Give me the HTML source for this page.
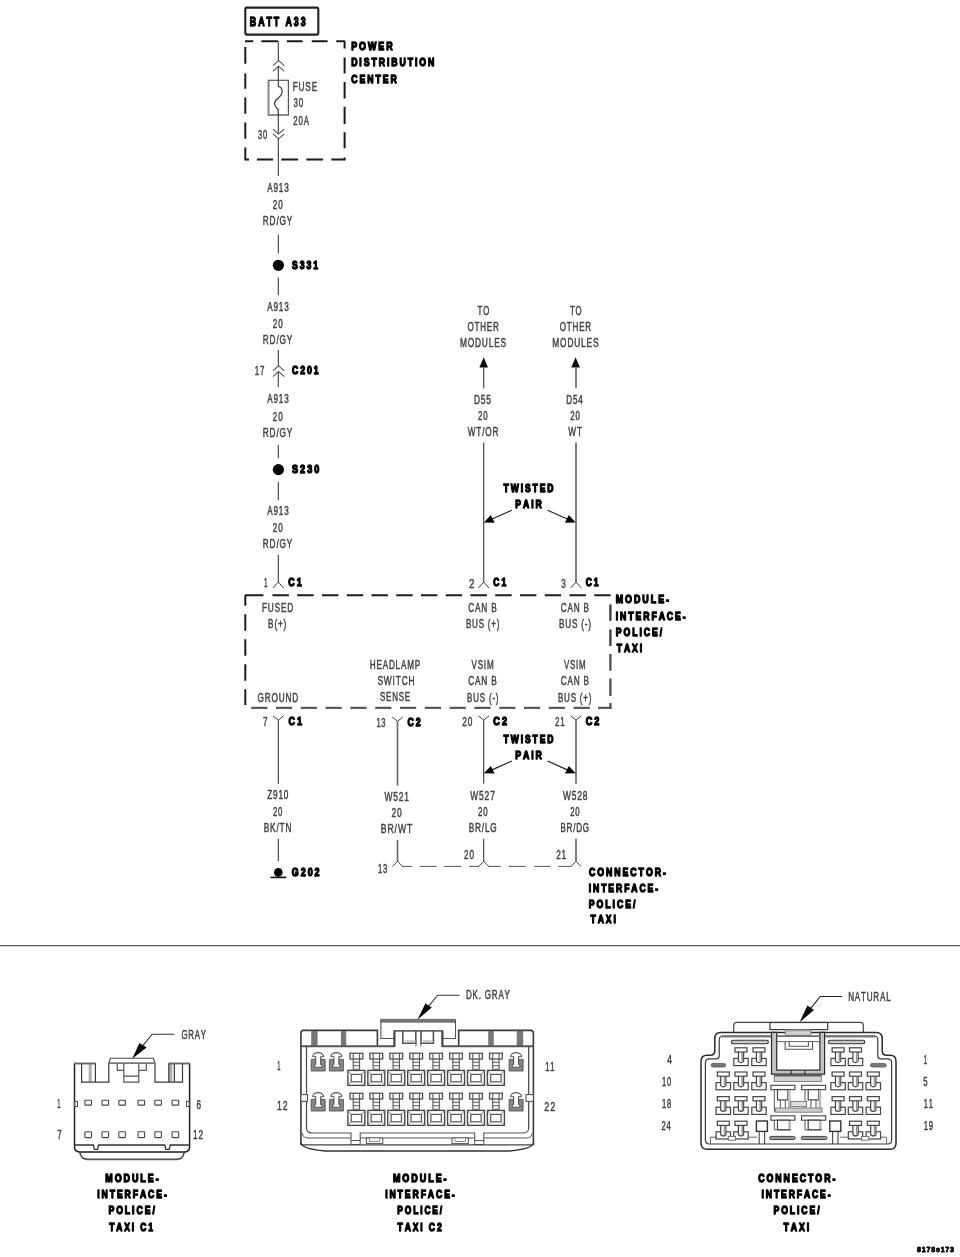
<!DOCTYPE html>
<html lang="en"><head><meta charset="utf-8"><title>Police/Taxi Interface Module Wiring Diagram</title>
<style>
html,body{margin:0;padding:0;background:#fff;}
body{width:960px;height:1257px;overflow:hidden;}
svg{display:block;}
text{font-family:"Liberation Sans",sans-serif;font-kerning:none;white-space:pre;}
text.b{font-weight:bold;}
</style></head>
<body>
<svg width="960" height="1257" viewBox="0 0 960 1257">
<defs><filter id="soft" filterUnits="userSpaceOnUse" x="0" y="0" width="960" height="1257"><feGaussianBlur stdDeviation="0.5"/></filter></defs>
<rect x="0" y="0" width="960" height="1257" fill="#fff"/>
<g filter="url(#soft)">
<rect x="245.3" y="7.6" width="73" height="27" rx="1.5" stroke="#222" stroke-width="2.1" fill="none" />
<text class="b" transform="translate(249.86,26.15) scale(0.7009,1)" font-size="12.6" letter-spacing="2.77" fill="#000" stroke="#000" stroke-width="1.3" stroke-linejoin="round">BATT A33</text>
<path d="M245,41.2H253.2 M261.4,41.2H278 M286.9,41.2H302.6 M311.8,41.2H327.6 M336.3,41.2H345" stroke="#1a1a1a" stroke-width="2" fill="none" />
<path d="M245.3,46.9V63.7 M245.3,73.6V88.8 M245.3,97.5V113.8 M245.3,122.5V138.8 M245.3,147.5V160.3" stroke="#1a1a1a" stroke-width="2" fill="none" />
<path d="M344.6,41.2V48.4 M344.6,57.5V73.4 M344.6,82V98.6 M344.6,106.8V124 M344.6,132.3V148.2 M344.6,157.4V160.3" stroke="#1a1a1a" stroke-width="2" fill="none" />
<path d="M245,159.4H249 M256.9,159.4H273.1 M281.3,159.4H298.1 M306.3,159.4H323.1 M331.3,159.4H345" stroke="#1a1a1a" stroke-width="2" fill="none" />
<text class="b" transform="translate(351.14,50.15) scale(0.8177,1)" font-size="10.9" letter-spacing="2.40" fill="#000" stroke="#000" stroke-width="1.3" stroke-linejoin="round">POWER</text>
<text class="b" transform="translate(351.14,66.25) scale(0.8002,1)" font-size="10.9" letter-spacing="2.40" fill="#000" stroke="#000" stroke-width="1.3" stroke-linejoin="round">DISTRIBUTION</text>
<text class="b" transform="translate(351.36,82.75) scale(0.8009,1)" font-size="10.9" letter-spacing="2.40" fill="#000" stroke="#000" stroke-width="1.3" stroke-linejoin="round">CENTER</text>
<line x1="278.3" y1="41.2" x2="278.3" y2="60.6" stroke="#3c3c3c" stroke-width="1.1" />
<path d="M273,65.7L278.6,60.6L284.2,65.7" stroke="#5a5a5a" stroke-width="1.1" fill="none" />
<path d="M273,71.4L278.6,66.3L284.2,71.4" stroke="#5a5a5a" stroke-width="1.1" fill="none" />
<line x1="278.3" y1="66.3" x2="278.3" y2="80" stroke="#3c3c3c" stroke-width="1.1" />
<rect x="268.5" y="80.3" width="19.9" height="34.7" stroke="#555" stroke-width="1.2" fill="none" />
<path d="M268.5,81 V115 H288" stroke="#8a8a8a" stroke-width="1.9" fill="none" />
<path d="M278.3,80 V86.4 C281.2,87 282.2,89.6 282.2,92 C282.2,95.4 279.8,96.6 278.2,98 C276.2,99.6 274.5,101 274.5,103.5 C274.5,106.6 277.2,108 278.3,109.6 V115" stroke="#3c3c3c" stroke-width="1.2" fill="none" />
<line x1="278.3" y1="114.8" x2="278.3" y2="134" stroke="#3c3c3c" stroke-width="1.1" />
<path d="M273,129.2L278.6,134L284.2,129.2" stroke="#5a5a5a" stroke-width="1.1" fill="none" />
<path d="M273,134L278.6,138.8L284.2,134" stroke="#5a5a5a" stroke-width="1.1" fill="none" />
<line x1="278.3" y1="138.8" x2="278.3" y2="176" stroke="#3c3c3c" stroke-width="1.1" />
<text class="r" transform="translate(292.69,90.55) scale(0.6712,1)" font-size="12.3" letter-spacing="1.23" fill="#444" stroke="#444" stroke-width="0.5" stroke-linejoin="round">FUSE</text>
<text class="r" transform="translate(293.46,107.45) scale(0.6500,1)" font-size="12.3" letter-spacing="1.23" fill="#444" stroke="#444" stroke-width="0.5" stroke-linejoin="round">30</text>
<text class="r" transform="translate(293.37,124.95) scale(0.6363,1)" font-size="12.3" letter-spacing="1.23" fill="#444" stroke="#444" stroke-width="0.5" stroke-linejoin="round">20A</text>
<text class="r" transform="translate(258.07,138.75) scale(0.6085,1)" font-size="12.3" letter-spacing="1.23" fill="#444" stroke="#444" stroke-width="0.5" stroke-linejoin="round">30</text>
<text class="r" transform="translate(267.25,192.15) scale(0.6615,1)" font-size="12.3" letter-spacing="1.23" fill="#444" stroke="#444" stroke-width="0.5" stroke-linejoin="round">A913</text>
<text class="r" transform="translate(272.86,208.85) scale(0.6568,1)" font-size="12.3" letter-spacing="1.23" fill="#444" stroke="#444" stroke-width="0.5" stroke-linejoin="round">20</text>
<text class="r" transform="translate(262.79,225.45) scale(0.6729,1)" font-size="12.3" letter-spacing="1.23" fill="#444" stroke="#444" stroke-width="0.5" stroke-linejoin="round">RD/GY</text>
<line x1="278.3" y1="234.5" x2="278.3" y2="253.5" stroke="#3c3c3c" stroke-width="1.1" />
<circle cx="278.4" cy="265.3" r="5.6" fill="#000"/>
<text class="b" transform="translate(292.07,269.25) scale(0.7980,1)" font-size="10.9" letter-spacing="2.40" fill="#000" stroke="#000" stroke-width="1.3" stroke-linejoin="round">S331</text>
<line x1="278.3" y1="277.5" x2="278.3" y2="295.3" stroke="#3c3c3c" stroke-width="1.1" />
<text class="r" transform="translate(267.25,310.95) scale(0.6615,1)" font-size="12.3" letter-spacing="1.23" fill="#444" stroke="#444" stroke-width="0.5" stroke-linejoin="round">A913</text>
<text class="r" transform="translate(272.86,327.65) scale(0.6568,1)" font-size="12.3" letter-spacing="1.23" fill="#444" stroke="#444" stroke-width="0.5" stroke-linejoin="round">20</text>
<text class="r" transform="translate(262.79,344.25) scale(0.6729,1)" font-size="12.3" letter-spacing="1.23" fill="#444" stroke="#444" stroke-width="0.5" stroke-linejoin="round">RD/GY</text>
<line x1="278.3" y1="350" x2="278.3" y2="366" stroke="#3c3c3c" stroke-width="1.1" />
<path d="M273,370.9L278.6,365.8L284.2,370.9" stroke="#5a5a5a" stroke-width="1.1" fill="none" />
<path d="M273,376.6L278.6,371.5L284.2,376.6" stroke="#5a5a5a" stroke-width="1.1" fill="none" />
<line x1="278.3" y1="371.5" x2="278.3" y2="387" stroke="#3c3c3c" stroke-width="1.1" />
<text class="r" transform="translate(254.75,374.75) scale(0.6495,1)" font-size="12.3" letter-spacing="1.23" fill="#444" stroke="#444" stroke-width="0.5" stroke-linejoin="round">17</text>
<text class="b" transform="translate(291.96,373.75) scale(0.7988,1)" font-size="10.9" letter-spacing="2.40" fill="#000" stroke="#000" stroke-width="1.3" stroke-linejoin="round">C201</text>
<text class="r" transform="translate(267.25,403.35) scale(0.6615,1)" font-size="12.3" letter-spacing="1.23" fill="#444" stroke="#444" stroke-width="0.5" stroke-linejoin="round">A913</text>
<text class="r" transform="translate(272.86,420.65) scale(0.6568,1)" font-size="12.3" letter-spacing="1.23" fill="#444" stroke="#444" stroke-width="0.5" stroke-linejoin="round">20</text>
<text class="r" transform="translate(262.79,437.15) scale(0.6729,1)" font-size="12.3" letter-spacing="1.23" fill="#444" stroke="#444" stroke-width="0.5" stroke-linejoin="round">RD/GY</text>
<line x1="278.3" y1="445" x2="278.3" y2="458.3" stroke="#3c3c3c" stroke-width="1.1" />
<circle cx="278.4" cy="469.6" r="5.6" fill="#000"/>
<text class="b" transform="translate(292.08,472.95) scale(0.8316,1)" font-size="10.9" letter-spacing="2.40" fill="#000" stroke="#000" stroke-width="1.3" stroke-linejoin="round">S230</text>
<line x1="278.3" y1="482" x2="278.3" y2="500.3" stroke="#3c3c3c" stroke-width="1.1" />
<text class="r" transform="translate(267.25,515.35) scale(0.6615,1)" font-size="12.3" letter-spacing="1.23" fill="#444" stroke="#444" stroke-width="0.5" stroke-linejoin="round">A913</text>
<text class="r" transform="translate(272.86,531.85) scale(0.6568,1)" font-size="12.3" letter-spacing="1.23" fill="#444" stroke="#444" stroke-width="0.5" stroke-linejoin="round">20</text>
<text class="r" transform="translate(262.79,548.05) scale(0.6729,1)" font-size="12.3" letter-spacing="1.23" fill="#444" stroke="#444" stroke-width="0.5" stroke-linejoin="round">RD/GY</text>
<line x1="278.3" y1="555" x2="278.3" y2="582.5" stroke="#3c3c3c" stroke-width="1.1" />
<path d="M273.0,588 L278.3,582 L283.6,588" stroke="#3c3c3c" stroke-width="1" fill="none" />
<text class="r" transform="translate(263.94,587.35) scale(0.5170,1)" font-size="12.3" letter-spacing="1.23" fill="#444" stroke="#444" stroke-width="0.5" stroke-linejoin="round">1</text>
<text class="b" transform="translate(288.37,586.35) scale(0.8175,1)" font-size="10.9" letter-spacing="2.40" fill="#000" stroke="#000" stroke-width="1.3" stroke-linejoin="round">C1</text>
<text class="r" transform="translate(477.58,314.75) scale(0.6352,1)" font-size="12.3" letter-spacing="1.23" fill="#444" stroke="#444" stroke-width="0.5" stroke-linejoin="round">TO</text>
<text class="r" transform="translate(467.38,331.15) scale(0.6552,1)" font-size="12.3" letter-spacing="1.23" fill="#444" stroke="#444" stroke-width="0.5" stroke-linejoin="round">OTHER</text>
<text class="r" transform="translate(459.88,347.35) scale(0.6792,1)" font-size="12.3" letter-spacing="1.23" fill="#444" stroke="#444" stroke-width="0.5" stroke-linejoin="round">MODULES</text>
<text class="r" transform="translate(569.98,314.75) scale(0.6352,1)" font-size="12.3" letter-spacing="1.23" fill="#444" stroke="#444" stroke-width="0.5" stroke-linejoin="round">TO</text>
<text class="r" transform="translate(559.78,331.15) scale(0.6552,1)" font-size="12.3" letter-spacing="1.23" fill="#444" stroke="#444" stroke-width="0.5" stroke-linejoin="round">OTHER</text>
<text class="r" transform="translate(552.28,347.35) scale(0.6792,1)" font-size="12.3" letter-spacing="1.23" fill="#444" stroke="#444" stroke-width="0.5" stroke-linejoin="round">MODULES</text>
<polygon points="483.7,357.3 479.4,367.6 488,367.6" fill="#111"/>
<polygon points="575.6,357.3 571.3,367.6 579.9,367.6" fill="#111"/>
<line x1="483.7" y1="367" x2="483.7" y2="388.3" stroke="#484848" stroke-width="1.2" />
<line x1="576" y1="367" x2="576" y2="388.3" stroke="#6a6a6a" stroke-width="1.7" />
<text class="r" transform="translate(473.88,403.55) scale(0.6834,1)" font-size="12.3" letter-spacing="1.23" fill="#444" stroke="#444" stroke-width="0.5" stroke-linejoin="round">D55</text>
<text class="r" transform="translate(477.96,419.95) scale(0.6428,1)" font-size="12.3" letter-spacing="1.23" fill="#444" stroke="#444" stroke-width="0.5" stroke-linejoin="round">20</text>
<text class="r" transform="translate(467.73,436.15) scale(0.6683,1)" font-size="12.3" letter-spacing="1.23" fill="#444" stroke="#444" stroke-width="0.5" stroke-linejoin="round">WT/OR</text>
<text class="r" transform="translate(566.30,403.55) scale(0.6624,1)" font-size="12.3" letter-spacing="1.23" fill="#444" stroke="#444" stroke-width="0.5" stroke-linejoin="round">D54</text>
<text class="r" transform="translate(570.36,419.95) scale(0.6428,1)" font-size="12.3" letter-spacing="1.23" fill="#444" stroke="#444" stroke-width="0.5" stroke-linejoin="round">20</text>
<text class="r" transform="translate(568.33,436.15) scale(0.6726,1)" font-size="12.3" letter-spacing="1.23" fill="#444" stroke="#444" stroke-width="0.5" stroke-linejoin="round">WT</text>
<line x1="483.7" y1="442.5" x2="483.7" y2="582.5" stroke="#484848" stroke-width="1.2" />
<line x1="576" y1="442.5" x2="576" y2="582.5" stroke="#6a6a6a" stroke-width="1.7" />
<path d="M478.4,588 L483.7,582 L489.0,588" stroke="#3c3c3c" stroke-width="1" fill="none" />
<path d="M570.7,588 L576,582 L581.3,588" stroke="#3c3c3c" stroke-width="1" fill="none" />
<text class="b" transform="translate(503.61,492.35) scale(0.7856,1)" font-size="10.9" letter-spacing="2.40" fill="#000" stroke="#000" stroke-width="1.3" stroke-linejoin="round">TWISTED</text>
<text class="b" transform="translate(515.34,508.35) scale(0.7921,1)" font-size="10.9" letter-spacing="2.40" fill="#000" stroke="#000" stroke-width="1.3" stroke-linejoin="round">PAIR</text>
<path d="M511.8,510.2 L490.4,519.8 M547.6,510.2 L569,519.8" stroke="#222" stroke-width="1.2" fill="none" />
<polygon points="483.9,522.5 494.6,522.7 490.8,515.1" fill="#000"/>
<polygon points="575.7,522.5 565,522.7 568.8,515.1" fill="#000"/>
<text class="r" transform="translate(468.91,587.55) scale(0.7864,1)" font-size="12.3" letter-spacing="1.23" fill="#444" stroke="#444" stroke-width="0.5" stroke-linejoin="round">2</text>
<text class="b" transform="translate(493.36,586.35) scale(0.7819,1)" font-size="10.9" letter-spacing="2.40" fill="#000" stroke="#000" stroke-width="1.3" stroke-linejoin="round">C1</text>
<text class="r" transform="translate(561.26,587.55) scale(0.6633,1)" font-size="12.3" letter-spacing="1.23" fill="#444" stroke="#444" stroke-width="0.5" stroke-linejoin="round">3</text>
<text class="b" transform="translate(585.66,586.35) scale(0.7819,1)" font-size="10.9" letter-spacing="2.40" fill="#000" stroke="#000" stroke-width="1.3" stroke-linejoin="round">C1</text>
<path d="M245,595.3H263.4 M272.5,595.3H288.9 M297.25,595.3H313.65 M322,595.3H338.4 M346.75,595.3H363.15 M371.5,595.3H387.9 M396.25,595.3H412.65 M421,595.3H437.4 M445.75,595.3H462.15 M470.5,595.3H486.9 M495.25,595.3H511.65 M520,595.3H536.4 M544.75,595.3H561.15 M569.5,595.3H585.9 M594.25,595.3H610.6" stroke="#1a1a1a" stroke-width="2" fill="none" />
<path d="M245.3,595.3V605.8 M245.3,614.2V630.8 M245.3,639.2V655.8 M245.3,664.2V680.8 M245.3,689.2V705" stroke="#1a1a1a" stroke-width="2" fill="none" />
<path d="M610.4,604.5V620.7 M610.4,629.6V646" stroke="#3a3a3a" stroke-width="2.3" fill="none" />
<path d="M610.4,654V670.8 M610.4,678.6V695.9 M610.4,703.1V709" stroke="#555" stroke-width="2.4" fill="none" />
<path d="M251.2,707.9H267.4 M276,707.9H292.2 M300.8,707.9H317 M325.6,707.9H341.8 M350.4,707.9H366.6 M375.2,707.9H391.4 M400,707.9H416.2 M424.8,707.9H441 M449.6,707.9H465.8 M474.4,707.9H490.6 M499.2,707.9H515.4 M524,707.9H540.2 M548.8,707.9H565 M573.6,707.9H589.8 M598,707.9H611.4" stroke="#5a5a5a" stroke-width="2.4" fill="none" />
<text class="b" transform="translate(615.74,603.25) scale(0.8167,1)" font-size="10.9" letter-spacing="2.40" fill="#000" stroke="#000" stroke-width="1.3" stroke-linejoin="round">MODULE-</text>
<text class="b" transform="translate(615.74,619.85) scale(0.7980,1)" font-size="10.9" letter-spacing="2.40" fill="#000" stroke="#000" stroke-width="1.3" stroke-linejoin="round">INTERFACE-</text>
<text class="b" transform="translate(615.74,636.15) scale(0.7989,1)" font-size="10.9" letter-spacing="2.40" fill="#000" stroke="#000" stroke-width="1.3" stroke-linejoin="round">POLICE/</text>
<text class="b" transform="translate(616.82,651.95) scale(0.7884,1)" font-size="10.9" letter-spacing="2.40" fill="#000" stroke="#000" stroke-width="1.3" stroke-linejoin="round">TAXI</text>
<text class="r" transform="translate(261.89,612.05) scale(0.6724,1)" font-size="12.3" letter-spacing="1.23" fill="#444" stroke="#444" stroke-width="0.5" stroke-linejoin="round">FUSED</text>
<text class="r" transform="translate(268.09,628.35) scale(0.6693,1)" font-size="12.3" letter-spacing="1.23" fill="#444" stroke="#444" stroke-width="0.5" stroke-linejoin="round">B(+)</text>
<text class="r" transform="translate(257.55,702.15) scale(0.6688,1)" font-size="12.3" letter-spacing="1.23" fill="#444" stroke="#444" stroke-width="0.5" stroke-linejoin="round">GROUND</text>
<text class="r" transform="translate(369.70,668.75) scale(0.6629,1)" font-size="12.3" letter-spacing="1.23" fill="#444" stroke="#444" stroke-width="0.5" stroke-linejoin="round">HEADLAMP</text>
<text class="r" transform="translate(377.39,685.35) scale(0.6829,1)" font-size="12.3" letter-spacing="1.23" fill="#444" stroke="#444" stroke-width="0.5" stroke-linejoin="round">SWITCH</text>
<text class="r" transform="translate(380.00,701.35) scale(0.6474,1)" font-size="12.3" letter-spacing="1.23" fill="#444" stroke="#444" stroke-width="0.5" stroke-linejoin="round">SENSE</text>
<text class="r" transform="translate(468.15,612.15) scale(0.6757,1)" font-size="12.3" letter-spacing="1.23" fill="#444" stroke="#444" stroke-width="0.5" stroke-linejoin="round">CAN B</text>
<text class="r" transform="translate(465.90,628.35) scale(0.6535,1)" font-size="12.3" letter-spacing="1.23" fill="#444" stroke="#444" stroke-width="0.5" stroke-linejoin="round">BUS (+)</text>
<text class="r" transform="translate(560.65,612.15) scale(0.6661,1)" font-size="12.3" letter-spacing="1.23" fill="#444" stroke="#444" stroke-width="0.5" stroke-linejoin="round">CAN B</text>
<text class="r" transform="translate(558.89,628.35) scale(0.6666,1)" font-size="12.3" letter-spacing="1.23" fill="#444" stroke="#444" stroke-width="0.5" stroke-linejoin="round">BUS (-)</text>
<text class="r" transform="translate(471.43,668.95) scale(0.6597,1)" font-size="12.3" letter-spacing="1.23" fill="#444" stroke="#444" stroke-width="0.5" stroke-linejoin="round">VSIM</text>
<text class="r" transform="translate(468.15,685.35) scale(0.6757,1)" font-size="12.3" letter-spacing="1.23" fill="#444" stroke="#444" stroke-width="0.5" stroke-linejoin="round">CAN B</text>
<text class="r" transform="translate(467.11,701.55) scale(0.6496,1)" font-size="12.3" letter-spacing="1.23" fill="#444" stroke="#444" stroke-width="0.5" stroke-linejoin="round">BUS (-)</text>
<text class="r" transform="translate(563.93,668.95) scale(0.6446,1)" font-size="12.3" letter-spacing="1.23" fill="#444" stroke="#444" stroke-width="0.5" stroke-linejoin="round">VSIM</text>
<text class="r" transform="translate(560.65,685.35) scale(0.6661,1)" font-size="12.3" letter-spacing="1.23" fill="#444" stroke="#444" stroke-width="0.5" stroke-linejoin="round">CAN B</text>
<text class="r" transform="translate(557.90,701.55) scale(0.6535,1)" font-size="12.3" letter-spacing="1.23" fill="#444" stroke="#444" stroke-width="0.5" stroke-linejoin="round">BUS (+)</text>
<path d="M273.0,715.8 L278.3,720.2 L283.6,715.8" stroke="#3c3c3c" stroke-width="1" fill="none" />
<line x1="278.3" y1="720" x2="278.3" y2="783.8" stroke="#3c3c3c" stroke-width="1.1" />
<text class="r" transform="translate(262.95,726.15) scale(0.6567,1)" font-size="12.3" letter-spacing="1.23" fill="#444" stroke="#444" stroke-width="0.5" stroke-linejoin="round">7</text>
<text class="b" transform="translate(288.47,725.25) scale(0.8234,1)" font-size="10.9" letter-spacing="2.40" fill="#000" stroke="#000" stroke-width="1.3" stroke-linejoin="round">C1</text>
<path d="M392.2,717 L397.5,721.4 L402.8,717" stroke="#3c3c3c" stroke-width="1" fill="none" />
<line x1="397.5" y1="721.2" x2="397.5" y2="785.5" stroke="#6a6a6a" stroke-width="1.7" />
<text class="r" transform="translate(376.38,727.35) scale(0.6172,1)" font-size="12.3" letter-spacing="1.23" fill="#444" stroke="#444" stroke-width="0.5" stroke-linejoin="round">13</text>
<text class="b" transform="translate(407.46,726.35) scale(0.8061,1)" font-size="10.9" letter-spacing="2.40" fill="#000" stroke="#000" stroke-width="1.3" stroke-linejoin="round">C2</text>
<path d="M478.4,715.8 L483.7,720.2 L489.0,715.8" stroke="#3c3c3c" stroke-width="1" fill="none" />
<line x1="483.7" y1="720" x2="483.7" y2="783.4" stroke="#484848" stroke-width="1.2" />
<text class="r" transform="translate(462.35,726.35) scale(0.6708,1)" font-size="12.3" letter-spacing="1.23" fill="#444" stroke="#444" stroke-width="0.5" stroke-linejoin="round">20</text>
<text class="b" transform="translate(493.37,725.25) scale(0.8359,1)" font-size="10.9" letter-spacing="2.40" fill="#000" stroke="#000" stroke-width="1.3" stroke-linejoin="round">C2</text>
<path d="M570.7,715.8 L576,720.2 L581.3,715.8" stroke="#3c3c3c" stroke-width="1" fill="none" />
<line x1="576" y1="720" x2="576" y2="783.8" stroke="#6a6a6a" stroke-width="1.7" />
<text class="r" transform="translate(554.96,726.35) scale(0.6482,1)" font-size="12.3" letter-spacing="1.23" fill="#444" stroke="#444" stroke-width="0.5" stroke-linejoin="round">21</text>
<text class="b" transform="translate(585.67,725.25) scale(0.8359,1)" font-size="10.9" letter-spacing="2.40" fill="#000" stroke="#000" stroke-width="1.3" stroke-linejoin="round">C2</text>
<text class="b" transform="translate(503.61,743.05) scale(0.7856,1)" font-size="10.9" letter-spacing="2.40" fill="#000" stroke="#000" stroke-width="1.3" stroke-linejoin="round">TWISTED</text>
<text class="b" transform="translate(515.14,759.35) scale(0.8040,1)" font-size="10.9" letter-spacing="2.40" fill="#000" stroke="#000" stroke-width="1.3" stroke-linejoin="round">PAIR</text>
<path d="M511.8,761 L490.4,770.6 M547.6,761 L569,770.6" stroke="#222" stroke-width="1.2" fill="none" />
<polygon points="483.9,773.3 494.6,773.5 490.8,765.9" fill="#000"/>
<polygon points="575.7,773.3 565,773.5 568.8,765.9" fill="#000"/>
<text class="r" transform="translate(267.21,799.35) scale(0.6666,1)" font-size="12.3" letter-spacing="1.23" fill="#444" stroke="#444" stroke-width="0.5" stroke-linejoin="round">Z910</text>
<text class="r" transform="translate(272.97,815.75) scale(0.6288,1)" font-size="12.3" letter-spacing="1.23" fill="#444" stroke="#444" stroke-width="0.5" stroke-linejoin="round">20</text>
<text class="r" transform="translate(263.69,832.35) scale(0.6763,1)" font-size="12.3" letter-spacing="1.23" fill="#444" stroke="#444" stroke-width="0.5" stroke-linejoin="round">BK/TN</text>
<line x1="278.3" y1="838.7" x2="278.3" y2="861" stroke="#3c3c3c" stroke-width="1.1" />
<circle cx="278.3" cy="872.4" r="4.3" fill="#000"/>
<line x1="270.6" y1="877.4" x2="286.2" y2="877.4" stroke="#111" stroke-width="1.6" />
<text class="b" transform="translate(291.77,875.65) scale(0.8228,1)" font-size="10.9" letter-spacing="2.40" fill="#000" stroke="#000" stroke-width="1.3" stroke-linejoin="round">G202</text>
<text class="r" transform="translate(384.43,800.65) scale(0.6869,1)" font-size="12.3" letter-spacing="1.23" fill="#444" stroke="#444" stroke-width="0.5" stroke-linejoin="round">W521</text>
<text class="r" transform="translate(391.55,816.95) scale(0.6847,1)" font-size="12.3" letter-spacing="1.23" fill="#444" stroke="#444" stroke-width="0.5" stroke-linejoin="round">20</text>
<text class="r" transform="translate(380.87,833.35) scale(0.7039,1)" font-size="12.3" letter-spacing="1.23" fill="#444" stroke="#444" stroke-width="0.5" stroke-linejoin="round">BR/WT</text>
<text class="r" transform="translate(470.33,799.55) scale(0.6845,1)" font-size="12.3" letter-spacing="1.23" fill="#444" stroke="#444" stroke-width="0.5" stroke-linejoin="round">W527</text>
<text class="r" transform="translate(477.96,815.75) scale(0.6428,1)" font-size="12.3" letter-spacing="1.23" fill="#444" stroke="#444" stroke-width="0.5" stroke-linejoin="round">20</text>
<text class="r" transform="translate(468.79,832.35) scale(0.6682,1)" font-size="12.3" letter-spacing="1.23" fill="#444" stroke="#444" stroke-width="0.5" stroke-linejoin="round">BR/LG</text>
<text class="r" transform="translate(562.93,799.55) scale(0.6828,1)" font-size="12.3" letter-spacing="1.23" fill="#444" stroke="#444" stroke-width="0.5" stroke-linejoin="round">W528</text>
<text class="r" transform="translate(570.17,815.75) scale(0.6288,1)" font-size="12.3" letter-spacing="1.23" fill="#444" stroke="#444" stroke-width="0.5" stroke-linejoin="round">20</text>
<text class="r" transform="translate(560.40,832.35) scale(0.6549,1)" font-size="12.3" letter-spacing="1.23" fill="#444" stroke="#444" stroke-width="0.5" stroke-linejoin="round">BR/DG</text>
<line x1="397.5" y1="840" x2="397.5" y2="861.5" stroke="#6a6a6a" stroke-width="1.7" />
<line x1="483.7" y1="838.7" x2="483.7" y2="861.5" stroke="#3c3c3c" stroke-width="1.1" />
<line x1="576" y1="838.7" x2="576" y2="861.5" stroke="#6a6a6a" stroke-width="1.7" />
<path d="M392.5,866.4 L397.5,861.3 L402.5,866.4" stroke="#3c3c3c" stroke-width="1" fill="none" />
<path d="M478.7,866.4 L483.7,861.3 L488.7,866.4" stroke="#3c3c3c" stroke-width="1" fill="none" />
<path d="M571,866.4 L576,861.3 L581,866.4" stroke="#3c3c3c" stroke-width="1" fill="none" />
<path d="M402,866.4H412.2 M420,866.4H436.7 M444.2,866.4H461.2 M469.2,866.4H479 M488,866.4H500.8 M508.8,866.4H525.8 M534.2,866.4H550.5 M558.3,866.4H571.4" stroke="#555" stroke-width="1" fill="none" />
<text class="r" transform="translate(377.98,872.55) scale(0.6172,1)" font-size="12.3" letter-spacing="1.23" fill="#444" stroke="#444" stroke-width="0.5" stroke-linejoin="round">13</text>
<text class="r" transform="translate(464.06,859.25) scale(0.6638,1)" font-size="12.3" letter-spacing="1.23" fill="#444" stroke="#444" stroke-width="0.5" stroke-linejoin="round">20</text>
<text class="r" transform="translate(556.16,859.25) scale(0.6623,1)" font-size="12.3" letter-spacing="1.23" fill="#444" stroke="#444" stroke-width="0.5" stroke-linejoin="round">21</text>
<text class="b" transform="translate(588.96,875.55) scale(0.8073,1)" font-size="10.9" letter-spacing="2.40" fill="#000" stroke="#000" stroke-width="1.3" stroke-linejoin="round">CONNECTOR-</text>
<text class="b" transform="translate(588.74,891.85) scale(0.7923,1)" font-size="10.9" letter-spacing="2.40" fill="#000" stroke="#000" stroke-width="1.3" stroke-linejoin="round">INTERFACE-</text>
<text class="b" transform="translate(588.74,907.85) scale(0.8040,1)" font-size="10.9" letter-spacing="2.40" fill="#000" stroke="#000" stroke-width="1.3" stroke-linejoin="round">POLICE/</text>
<text class="b" transform="translate(590.62,923.35) scale(0.7884,1)" font-size="10.9" letter-spacing="2.40" fill="#000" stroke="#000" stroke-width="1.3" stroke-linejoin="round">TAXI</text>
<line x1="0" y1="945.7" x2="960" y2="945.7" stroke="#555" stroke-width="1.3" />
<path d="M74.5,1063.4 V1147.6 Q74.8,1151.6 79.4,1152 M189.6,1063.4 V1147.6 Q189.3,1151.6 184.7,1152" stroke="#222" stroke-width="1.5" fill="none" />
<path d="M79,1152 H185.1" stroke="#555" stroke-width="1.8" fill="none" />
<rect x="88.6" y="1064" width="3.2" height="18" stroke="none" stroke-width="0" fill="#b0b0b0" />
<path d="M81.6,1063.8 V1082.2 H108.8 V1063 M95.4,1063.8 V1082.2" stroke="#3a3a3a" stroke-width="1.2" fill="none" />
<path d="M74,1063.5 H95.8" stroke="#666" stroke-width="1.9" fill="none" />
<rect x="169.2" y="1064" width="3.2" height="18" stroke="none" stroke-width="0" fill="#b0b0b0" />
<path d="M182.5,1063.8 V1082.2 H155 V1063 M168.8,1063.8 V1082.2 M174.4,1063.8 V1082.2" stroke="#3a3a3a" stroke-width="1.2" fill="none" />
<path d="M190.1,1063.5 H168.4" stroke="#666" stroke-width="1.9" fill="none" />
<path d="M108.8,1063 L110.4,1058.2 H153.3 L155,1063" stroke="#444" stroke-width="1.1" fill="#fff" />
<path d="M108.8,1063.2 H155" stroke="#777" stroke-width="1.8" fill="none" />
<path d="M117.3,1064 V1070.3 H123.8 M146.3,1064 V1070.3 H138.8 M123.8,1064 V1082.2 H138.8 V1064 M123.8,1076.2 H138.8" stroke="#555" stroke-width="1.2" fill="none" />
<rect x="84.9" y="1100.3" width="6.6" height="4.8" rx="0.7" stroke="#444" stroke-width="1.1" fill="none" />
<rect x="84.9" y="1131.8" width="6.6" height="5.8" rx="0.8" stroke="#444" stroke-width="1.1" fill="none" />
<rect x="102" y="1100.3" width="6.6" height="4.8" rx="0.7" stroke="#444" stroke-width="1.1" fill="none" />
<rect x="102" y="1131.8" width="6.6" height="5.8" rx="0.8" stroke="#444" stroke-width="1.1" fill="none" />
<rect x="118.8" y="1100.3" width="6.6" height="4.8" rx="0.7" stroke="#444" stroke-width="1.1" fill="none" />
<rect x="118.8" y="1131.8" width="6.6" height="5.8" rx="0.8" stroke="#444" stroke-width="1.1" fill="none" />
<rect x="138" y="1100.3" width="6.6" height="4.8" rx="0.7" stroke="#444" stroke-width="1.1" fill="none" />
<rect x="138" y="1131.8" width="6.6" height="5.8" rx="0.8" stroke="#444" stroke-width="1.1" fill="none" />
<rect x="154.8" y="1100.3" width="6.6" height="4.8" rx="0.7" stroke="#444" stroke-width="1.1" fill="none" />
<rect x="154.8" y="1131.8" width="6.6" height="5.8" rx="0.8" stroke="#444" stroke-width="1.1" fill="none" />
<rect x="172.1" y="1100.3" width="6.6" height="4.8" rx="0.7" stroke="#444" stroke-width="1.1" fill="none" />
<rect x="172.1" y="1131.8" width="6.6" height="5.8" rx="0.8" stroke="#444" stroke-width="1.1" fill="none" />
<rect x="74.5" y="1101.4" width="3" height="5" stroke="#444" stroke-width="1" fill="none" />
<rect x="186.6" y="1101.4" width="3" height="5" stroke="#444" stroke-width="1" fill="none" />
<path d="M74.5,1145 H93.4 L94.4,1149.4 H97.6 L98.6,1145 H164.8 L165.8,1149.4 H169.2 L170.2,1145 H189.6" stroke="#333" stroke-width="1.3" fill="none" />
<path d="M79.8,1152 Q80.6,1158.6 86.6,1159.3 M184.3,1152 Q183.5,1158.6 177.5,1159.3" stroke="#333" stroke-width="1.4" fill="none" />
<path d="M86,1159.3 H178.1" stroke="#555" stroke-width="1.8" fill="none" />
<path d="M174.2,1034.2 H152.2 L143,1045.4" stroke="#333" stroke-width="1.1" fill="none" />
<polygon points="132.4,1058.4 139.4,1043 146.6,1047.4" fill="#000"/>
<text class="r" transform="translate(181.47,1039.15) scale(0.6368,1)" font-size="12.3" letter-spacing="1.23" fill="#444" stroke="#444" stroke-width="0.5" stroke-linejoin="round">GRAY</text>
<text class="r" transform="translate(57.18,1107.75) scale(0.4653,1)" font-size="12.3" letter-spacing="1.23" fill="#444" stroke="#444" stroke-width="0.5" stroke-linejoin="round">1</text>
<text class="r" transform="translate(196.55,1109.15) scale(0.6639,1)" font-size="12.3" letter-spacing="1.23" fill="#444" stroke="#444" stroke-width="0.5" stroke-linejoin="round">6</text>
<text class="r" transform="translate(57.35,1139.45) scale(0.6567,1)" font-size="12.3" letter-spacing="1.23" fill="#444" stroke="#444" stroke-width="0.5" stroke-linejoin="round">7</text>
<text class="r" transform="translate(193.04,1139.25) scale(0.6712,1)" font-size="12.3" letter-spacing="1.23" fill="#444" stroke="#444" stroke-width="0.5" stroke-linejoin="round">12</text>
<text class="b" transform="translate(105.24,1182.05) scale(0.8198,1)" font-size="10.9" letter-spacing="2.40" fill="#000" stroke="#000" stroke-width="1.3" stroke-linejoin="round">MODULE-</text>
<text class="b" transform="translate(97.24,1198.05) scale(0.7957,1)" font-size="10.9" letter-spacing="2.40" fill="#000" stroke="#000" stroke-width="1.3" stroke-linejoin="round">INTERFACE-</text>
<text class="b" transform="translate(108.44,1214.25) scale(0.8006,1)" font-size="10.9" letter-spacing="2.40" fill="#000" stroke="#000" stroke-width="1.3" stroke-linejoin="round">POLICE/</text>
<text class="b" transform="translate(109.21,1230.55) scale(0.7782,1)" font-size="10.9" letter-spacing="2.40" fill="#000" stroke="#000" stroke-width="1.3" stroke-linejoin="round">TAXI C1</text>
<path d="M300.9,1144.8 V1033.4 Q300.9,1030.4 303.9,1030.4 H377.4 V1046.3 M458.7,1046.3 V1030.4 H530.4 Q533.4,1030.4 533.4,1033.4 V1144.8" stroke="#3a3a3a" stroke-width="1.6" fill="none" />
<rect x="311.2" y="1031" width="6.4" height="15.4" stroke="none" stroke-width="0" fill="#777" />
<rect x="340.9" y="1031" width="5.3" height="15.4" stroke="none" stroke-width="0" fill="#777" />
<rect x="488.2" y="1031" width="5.6" height="15.4" stroke="none" stroke-width="0" fill="#777" />
<rect x="516.7" y="1031" width="6.5" height="15.4" stroke="none" stroke-width="0" fill="#777" />
<path d="M300.9,1046.3 H394.4 M442.4,1046.3 H533.4" stroke="#555" stroke-width="2" fill="none" />
<rect x="380.8" y="1019.2" width="74.8" height="3" stroke="#555" stroke-width="0.6" fill="#777" />
<path d="M380.9,1020 V1038.5 H394.4 M455.5,1020 V1038.5 H442.4" stroke="#555" stroke-width="1.1" fill="none" />
<path d="M394.4,1030.9 H442.4" stroke="#666" stroke-width="1.6" fill="none" />
<path d="M394.4,1047 V1030.4 M442.4,1047 V1030.4" stroke="#444" stroke-width="2.2" fill="none" />
<path d="M402.8,1031 V1043.2 H415.8 V1031 M421,1031 V1043.2 H433.4 V1031" stroke="#555" stroke-width="1.6" fill="none" />
<path d="M405,1041 H414 M423,1041 H431.4" stroke="#999" stroke-width="1" fill="none" />
<path d="M416,1040 V1046.6 M420.8,1040 V1046.6" stroke="#777" stroke-width="1.2" fill="none" />
<path d="M306.5,1046.3 V1129 M528.7,1046.3 V1129" stroke="#444" stroke-width="1.2" fill="none" />
<rect x="300.9" y="1094.6" width="6.6" height="6.8" stroke="#555" stroke-width="1.1" fill="#fff" />
<rect x="526" y="1094.6" width="7.4" height="6.8" stroke="#555" stroke-width="1.1" fill="#fff" />
<path d="M311.2,1059.4 V1071 H325.2 V1059.4 H320.8 V1064.8 H322 V1067.2 H314.4 V1064.8 H315.6 V1059.4 Z" stroke="#444" stroke-width="0.8" fill="#888" />
<path d="M315.7,1064.8 V1056.8 H313 Q312.2,1055.2 314.6,1053.6 Q318.2,1051.6 321.8,1053.6 Q324.2,1055.2 323.4,1056.8 H320.7 V1064.8" stroke="#555" stroke-width="1.1" fill="#fff" />
<path d="M329.4,1059.4 V1071 H343.4 V1059.4 H339 V1064.8 H340.2 V1067.2 H332.6 V1064.8 H333.8 V1059.4 Z" stroke="#444" stroke-width="0.8" fill="#888" />
<path d="M333.9,1064.8 V1056.8 H331.2 Q330.4,1055.2 332.8,1053.6 Q336.4,1051.6 340,1053.6 Q342.4,1055.2 341.6,1056.8 H338.9 V1064.8" stroke="#555" stroke-width="1.1" fill="#fff" />
<path d="M509.1,1059.4 V1071 H523.1 V1059.4 H518.7 V1064.8 H519.9 V1067.2 H512.3 V1064.8 H513.5 V1059.4 Z" stroke="#444" stroke-width="0.8" fill="#888" />
<path d="M513.6,1064.8 V1056.8 H510.9 Q510.1,1055.2 512.5,1053.6 Q516.1,1051.6 519.7,1053.6 Q522.1,1055.2 521.3,1056.8 H518.6 V1064.8" stroke="#555" stroke-width="1.1" fill="#fff" />
<rect x="350" y="1053.2" width="12.8" height="5.8" stroke="#444" stroke-width="1.2" fill="#fff" />
<path d="M353.2,1053.2 V1069.8 M359.6,1053.2 V1069.8 M353.2,1062.3 H359.6 M353.2,1065.8 H359.6 M353.2,1069.2 H359.6" stroke="#555" stroke-width="1.1" fill="none" />
<rect x="347.9" y="1070.4" width="17" height="15" stroke="#4a4a4a" stroke-width="1.4" fill="#fff" />
<rect x="351.2" y="1074.4" width="10.4" height="7.4" stroke="#555" stroke-width="1.2" fill="#fff" />
<path d="M347.8,1070.4 l3.4,4 M365,1070.4 l-3.4,4 M347.8,1085.4 l3.4,-3.6 M365,1085.4 l-3.4,-3.6" stroke="#777" stroke-width="0.8" fill="none" />
<rect x="369.93" y="1053.2" width="12.8" height="5.8" stroke="#444" stroke-width="1.2" fill="#fff" />
<path d="M373.13,1053.2 V1069.8 M379.53,1053.2 V1069.8 M373.13,1062.3 H379.53 M373.13,1065.8 H379.53 M373.13,1069.2 H379.53" stroke="#555" stroke-width="1.1" fill="none" />
<rect x="367.83" y="1070.4" width="17" height="15" stroke="#4a4a4a" stroke-width="1.4" fill="#fff" />
<rect x="371.13" y="1074.4" width="10.4" height="7.4" stroke="#555" stroke-width="1.2" fill="#fff" />
<path d="M367.73,1070.4 l3.4,4 M384.93,1070.4 l-3.4,4 M367.73,1085.4 l3.4,-3.6 M384.93,1085.4 l-3.4,-3.6" stroke="#777" stroke-width="0.8" fill="none" />
<rect x="389.86" y="1053.2" width="12.8" height="5.8" stroke="#444" stroke-width="1.2" fill="#fff" />
<path d="M393.06,1053.2 V1069.8 M399.46,1053.2 V1069.8 M393.06,1062.3 H399.46 M393.06,1065.8 H399.46 M393.06,1069.2 H399.46" stroke="#555" stroke-width="1.1" fill="none" />
<rect x="387.76" y="1070.4" width="17" height="15" stroke="#4a4a4a" stroke-width="1.4" fill="#fff" />
<rect x="391.06" y="1074.4" width="10.4" height="7.4" stroke="#555" stroke-width="1.2" fill="#fff" />
<path d="M387.66,1070.4 l3.4,4 M404.86,1070.4 l-3.4,4 M387.66,1085.4 l3.4,-3.6 M404.86,1085.4 l-3.4,-3.6" stroke="#777" stroke-width="0.8" fill="none" />
<rect x="409.79" y="1053.2" width="12.8" height="5.8" stroke="#444" stroke-width="1.2" fill="#fff" />
<path d="M412.99,1053.2 V1069.8 M419.39,1053.2 V1069.8 M412.99,1062.3 H419.39 M412.99,1065.8 H419.39 M412.99,1069.2 H419.39" stroke="#555" stroke-width="1.1" fill="none" />
<rect x="407.69" y="1070.4" width="17" height="15" stroke="#4a4a4a" stroke-width="1.4" fill="#fff" />
<rect x="410.99" y="1074.4" width="10.4" height="7.4" stroke="#555" stroke-width="1.2" fill="#fff" />
<path d="M407.59,1070.4 l3.4,4 M424.79,1070.4 l-3.4,4 M407.59,1085.4 l3.4,-3.6 M424.79,1085.4 l-3.4,-3.6" stroke="#777" stroke-width="0.8" fill="none" />
<rect x="429.72" y="1053.2" width="12.8" height="5.8" stroke="#444" stroke-width="1.2" fill="#fff" />
<path d="M432.92,1053.2 V1069.8 M439.32,1053.2 V1069.8 M432.92,1062.3 H439.32 M432.92,1065.8 H439.32 M432.92,1069.2 H439.32" stroke="#555" stroke-width="1.1" fill="none" />
<rect x="427.62" y="1070.4" width="17" height="15" stroke="#4a4a4a" stroke-width="1.4" fill="#fff" />
<rect x="430.92" y="1074.4" width="10.4" height="7.4" stroke="#555" stroke-width="1.2" fill="#fff" />
<path d="M427.52,1070.4 l3.4,4 M444.72,1070.4 l-3.4,4 M427.52,1085.4 l3.4,-3.6 M444.72,1085.4 l-3.4,-3.6" stroke="#777" stroke-width="0.8" fill="none" />
<rect x="449.65" y="1053.2" width="12.8" height="5.8" stroke="#444" stroke-width="1.2" fill="#fff" />
<path d="M452.85,1053.2 V1069.8 M459.25,1053.2 V1069.8 M452.85,1062.3 H459.25 M452.85,1065.8 H459.25 M452.85,1069.2 H459.25" stroke="#555" stroke-width="1.1" fill="none" />
<rect x="447.55" y="1070.4" width="17" height="15" stroke="#4a4a4a" stroke-width="1.4" fill="#fff" />
<rect x="450.85" y="1074.4" width="10.4" height="7.4" stroke="#555" stroke-width="1.2" fill="#fff" />
<path d="M447.45,1070.4 l3.4,4 M464.65,1070.4 l-3.4,4 M447.45,1085.4 l3.4,-3.6 M464.65,1085.4 l-3.4,-3.6" stroke="#777" stroke-width="0.8" fill="none" />
<rect x="469.58" y="1053.2" width="12.8" height="5.8" stroke="#444" stroke-width="1.2" fill="#fff" />
<path d="M472.78,1053.2 V1069.8 M479.18,1053.2 V1069.8 M472.78,1062.3 H479.18 M472.78,1065.8 H479.18 M472.78,1069.2 H479.18" stroke="#555" stroke-width="1.1" fill="none" />
<rect x="467.48" y="1070.4" width="17" height="15" stroke="#4a4a4a" stroke-width="1.4" fill="#fff" />
<rect x="470.78" y="1074.4" width="10.4" height="7.4" stroke="#555" stroke-width="1.2" fill="#fff" />
<path d="M467.38,1070.4 l3.4,4 M484.58,1070.4 l-3.4,4 M467.38,1085.4 l3.4,-3.6 M484.58,1085.4 l-3.4,-3.6" stroke="#777" stroke-width="0.8" fill="none" />
<rect x="489.51" y="1053.2" width="12.8" height="5.8" stroke="#444" stroke-width="1.2" fill="#fff" />
<path d="M492.71,1053.2 V1069.8 M499.11,1053.2 V1069.8 M492.71,1062.3 H499.11 M492.71,1065.8 H499.11 M492.71,1069.2 H499.11" stroke="#555" stroke-width="1.1" fill="none" />
<rect x="487.41" y="1070.4" width="17" height="15" stroke="#4a4a4a" stroke-width="1.4" fill="#fff" />
<rect x="490.71" y="1074.4" width="10.4" height="7.4" stroke="#555" stroke-width="1.2" fill="#fff" />
<path d="M487.31,1070.4 l3.4,4 M504.51,1070.4 l-3.4,4 M487.31,1085.4 l3.4,-3.6 M504.51,1085.4 l-3.4,-3.6" stroke="#777" stroke-width="0.8" fill="none" />
<path d="M311.2,1099.4 V1111 H325.2 V1099.4 H320.8 V1104.8 H322 V1107.2 H314.4 V1104.8 H315.6 V1099.4 Z" stroke="#444" stroke-width="0.8" fill="#888" />
<path d="M315.7,1104.8 V1096.8 H313 Q312.2,1095.2 314.6,1093.6 Q318.2,1091.6 321.8,1093.6 Q324.2,1095.2 323.4,1096.8 H320.7 V1104.8" stroke="#555" stroke-width="1.1" fill="#fff" />
<path d="M329.4,1099.4 V1111 H343.4 V1099.4 H339 V1104.8 H340.2 V1107.2 H332.6 V1104.8 H333.8 V1099.4 Z" stroke="#444" stroke-width="0.8" fill="#888" />
<path d="M333.9,1104.8 V1096.8 H331.2 Q330.4,1095.2 332.8,1093.6 Q336.4,1091.6 340,1093.6 Q342.4,1095.2 341.6,1096.8 H338.9 V1104.8" stroke="#555" stroke-width="1.1" fill="#fff" />
<path d="M509.1,1099.4 V1111 H523.1 V1099.4 H518.7 V1104.8 H519.9 V1107.2 H512.3 V1104.8 H513.5 V1099.4 Z" stroke="#444" stroke-width="0.8" fill="#888" />
<path d="M513.6,1104.8 V1096.8 H510.9 Q510.1,1095.2 512.5,1093.6 Q516.1,1091.6 519.7,1093.6 Q522.1,1095.2 521.3,1096.8 H518.6 V1104.8" stroke="#555" stroke-width="1.1" fill="#fff" />
<rect x="350" y="1093.2" width="12.8" height="5.8" stroke="#444" stroke-width="1.2" fill="#fff" />
<path d="M353.2,1093.2 V1109.8 M359.6,1093.2 V1109.8 M353.2,1102.3 H359.6 M353.2,1105.8 H359.6 M353.2,1109.2 H359.6" stroke="#555" stroke-width="1.1" fill="none" />
<rect x="347.9" y="1110.4" width="17" height="15" stroke="#4a4a4a" stroke-width="1.4" fill="#fff" />
<rect x="351.2" y="1114.4" width="10.4" height="7.4" stroke="#555" stroke-width="1.2" fill="#fff" />
<path d="M347.8,1110.4 l3.4,4 M365,1110.4 l-3.4,4 M347.8,1125.4 l3.4,-3.6 M365,1125.4 l-3.4,-3.6" stroke="#777" stroke-width="0.8" fill="none" />
<rect x="369.93" y="1093.2" width="12.8" height="5.8" stroke="#444" stroke-width="1.2" fill="#fff" />
<path d="M373.13,1093.2 V1109.8 M379.53,1093.2 V1109.8 M373.13,1102.3 H379.53 M373.13,1105.8 H379.53 M373.13,1109.2 H379.53" stroke="#555" stroke-width="1.1" fill="none" />
<rect x="367.83" y="1110.4" width="17" height="15" stroke="#4a4a4a" stroke-width="1.4" fill="#fff" />
<rect x="371.13" y="1114.4" width="10.4" height="7.4" stroke="#555" stroke-width="1.2" fill="#fff" />
<path d="M367.73,1110.4 l3.4,4 M384.93,1110.4 l-3.4,4 M367.73,1125.4 l3.4,-3.6 M384.93,1125.4 l-3.4,-3.6" stroke="#777" stroke-width="0.8" fill="none" />
<rect x="389.86" y="1093.2" width="12.8" height="5.8" stroke="#444" stroke-width="1.2" fill="#fff" />
<path d="M393.06,1093.2 V1109.8 M399.46,1093.2 V1109.8 M393.06,1102.3 H399.46 M393.06,1105.8 H399.46 M393.06,1109.2 H399.46" stroke="#555" stroke-width="1.1" fill="none" />
<rect x="387.76" y="1110.4" width="17" height="15" stroke="#4a4a4a" stroke-width="1.4" fill="#fff" />
<rect x="391.06" y="1114.4" width="10.4" height="7.4" stroke="#555" stroke-width="1.2" fill="#fff" />
<path d="M387.66,1110.4 l3.4,4 M404.86,1110.4 l-3.4,4 M387.66,1125.4 l3.4,-3.6 M404.86,1125.4 l-3.4,-3.6" stroke="#777" stroke-width="0.8" fill="none" />
<rect x="409.79" y="1093.2" width="12.8" height="5.8" stroke="#444" stroke-width="1.2" fill="#fff" />
<path d="M412.99,1093.2 V1109.8 M419.39,1093.2 V1109.8 M412.99,1102.3 H419.39 M412.99,1105.8 H419.39 M412.99,1109.2 H419.39" stroke="#555" stroke-width="1.1" fill="none" />
<rect x="407.69" y="1110.4" width="17" height="15" stroke="#4a4a4a" stroke-width="1.4" fill="#fff" />
<rect x="410.99" y="1114.4" width="10.4" height="7.4" stroke="#555" stroke-width="1.2" fill="#fff" />
<path d="M407.59,1110.4 l3.4,4 M424.79,1110.4 l-3.4,4 M407.59,1125.4 l3.4,-3.6 M424.79,1125.4 l-3.4,-3.6" stroke="#777" stroke-width="0.8" fill="none" />
<rect x="429.72" y="1093.2" width="12.8" height="5.8" stroke="#444" stroke-width="1.2" fill="#fff" />
<path d="M432.92,1093.2 V1109.8 M439.32,1093.2 V1109.8 M432.92,1102.3 H439.32 M432.92,1105.8 H439.32 M432.92,1109.2 H439.32" stroke="#555" stroke-width="1.1" fill="none" />
<rect x="427.62" y="1110.4" width="17" height="15" stroke="#4a4a4a" stroke-width="1.4" fill="#fff" />
<rect x="430.92" y="1114.4" width="10.4" height="7.4" stroke="#555" stroke-width="1.2" fill="#fff" />
<path d="M427.52,1110.4 l3.4,4 M444.72,1110.4 l-3.4,4 M427.52,1125.4 l3.4,-3.6 M444.72,1125.4 l-3.4,-3.6" stroke="#777" stroke-width="0.8" fill="none" />
<rect x="449.65" y="1093.2" width="12.8" height="5.8" stroke="#444" stroke-width="1.2" fill="#fff" />
<path d="M452.85,1093.2 V1109.8 M459.25,1093.2 V1109.8 M452.85,1102.3 H459.25 M452.85,1105.8 H459.25 M452.85,1109.2 H459.25" stroke="#555" stroke-width="1.1" fill="none" />
<rect x="447.55" y="1110.4" width="17" height="15" stroke="#4a4a4a" stroke-width="1.4" fill="#fff" />
<rect x="450.85" y="1114.4" width="10.4" height="7.4" stroke="#555" stroke-width="1.2" fill="#fff" />
<path d="M447.45,1110.4 l3.4,4 M464.65,1110.4 l-3.4,4 M447.45,1125.4 l3.4,-3.6 M464.65,1125.4 l-3.4,-3.6" stroke="#777" stroke-width="0.8" fill="none" />
<rect x="469.58" y="1093.2" width="12.8" height="5.8" stroke="#444" stroke-width="1.2" fill="#fff" />
<path d="M472.78,1093.2 V1109.8 M479.18,1093.2 V1109.8 M472.78,1102.3 H479.18 M472.78,1105.8 H479.18 M472.78,1109.2 H479.18" stroke="#555" stroke-width="1.1" fill="none" />
<rect x="467.48" y="1110.4" width="17" height="15" stroke="#4a4a4a" stroke-width="1.4" fill="#fff" />
<rect x="470.78" y="1114.4" width="10.4" height="7.4" stroke="#555" stroke-width="1.2" fill="#fff" />
<path d="M467.38,1110.4 l3.4,4 M484.58,1110.4 l-3.4,4 M467.38,1125.4 l3.4,-3.6 M484.58,1125.4 l-3.4,-3.6" stroke="#777" stroke-width="0.8" fill="none" />
<rect x="489.51" y="1093.2" width="12.8" height="5.8" stroke="#444" stroke-width="1.2" fill="#fff" />
<path d="M492.71,1093.2 V1109.8 M499.11,1093.2 V1109.8 M492.71,1102.3 H499.11 M492.71,1105.8 H499.11 M492.71,1109.2 H499.11" stroke="#555" stroke-width="1.1" fill="none" />
<rect x="487.41" y="1110.4" width="17" height="15" stroke="#4a4a4a" stroke-width="1.4" fill="#fff" />
<rect x="490.71" y="1114.4" width="10.4" height="7.4" stroke="#555" stroke-width="1.2" fill="#fff" />
<path d="M487.31,1110.4 l3.4,4 M504.51,1110.4 l-3.4,4 M487.31,1125.4 l3.4,-3.6 M504.51,1125.4 l-3.4,-3.6" stroke="#777" stroke-width="0.8" fill="none" />
<path d="M306.5,1129 Q307.5,1133 312,1133 H351 V1140.5 M360.2,1140.5 V1133 H474.7 V1140.5 M483.8,1140.5 V1133 H522 Q527.8,1133 528.7,1129" stroke="#555" stroke-width="1.1" fill="none" />
<path d="M302,1133 Q303,1138 308,1138 H351 M360.2,1138 H474.7 M483.8,1138 H527 Q531.5,1138 532.5,1133" stroke="#555" stroke-width="1.1" fill="none" />
<rect x="351" y="1140.5" width="9.2" height="4" stroke="#555" stroke-width="1" fill="#fff" />
<rect x="474.7" y="1140.5" width="9.1" height="4" stroke="#555" stroke-width="1" fill="#fff" />
<rect x="366.4" y="1138" width="16.4" height="5.6" stroke="#555" stroke-width="1" fill="#fff" />
<rect x="369.4" y="1138" width="10.4" height="3.6" stroke="#777" stroke-width="0.8" fill="#fff" />
<rect x="452" y="1138" width="16.4" height="5.6" stroke="#555" stroke-width="1" fill="#fff" />
<rect x="455" y="1138" width="10.4" height="3.6" stroke="#777" stroke-width="0.8" fill="#fff" />
<path d="M300.9,1144.8 H533.4" stroke="#444" stroke-width="1.2" fill="none" />
<path d="M300.9,1142.8 Q301.9,1148.8 325,1151 H509.5 Q532.4,1148.8 533.4,1142.8" stroke="#333" stroke-width="1.3" fill="none" />
<path d="M459.6,995.2 H437.7 L428,1006.8" stroke="#333" stroke-width="1.1" fill="none" />
<polygon points="417.6,1019.6 425.4,1003.4 431.8,1007.6" fill="#000"/>
<text class="r" transform="translate(466.00,998.75) scale(0.6531,1)" font-size="12.3" letter-spacing="1.23" fill="#444" stroke="#444" stroke-width="0.5" stroke-linejoin="round">DK. GRAY</text>
<text class="r" transform="translate(277.28,1070.35) scale(0.4653,1)" font-size="12.3" letter-spacing="1.23" fill="#444" stroke="#444" stroke-width="0.5" stroke-linejoin="round">1</text>
<text class="r" transform="translate(277.11,1110.35) scale(0.7073,1)" font-size="12.3" letter-spacing="1.23" fill="#444" stroke="#444" stroke-width="0.5" stroke-linejoin="round">12</text>
<text class="r" transform="translate(545.17,1070.55) scale(0.6199,1)" font-size="12.3" letter-spacing="1.23" fill="#444" stroke="#444" stroke-width="0.5" stroke-linejoin="round">11</text>
<text class="r" transform="translate(544.33,1110.65) scale(0.7337,1)" font-size="12.3" letter-spacing="1.23" fill="#444" stroke="#444" stroke-width="0.5" stroke-linejoin="round">22</text>
<text class="b" transform="translate(392.93,1182.05) scale(0.8229,1)" font-size="10.9" letter-spacing="2.40" fill="#000" stroke="#000" stroke-width="1.3" stroke-linejoin="round">MODULE-</text>
<text class="b" transform="translate(385.14,1198.05) scale(0.7957,1)" font-size="10.9" letter-spacing="2.40" fill="#000" stroke="#000" stroke-width="1.3" stroke-linejoin="round">INTERFACE-</text>
<text class="b" transform="translate(397.34,1214.25) scale(0.7732,1)" font-size="10.9" letter-spacing="2.40" fill="#000" stroke="#000" stroke-width="1.3" stroke-linejoin="round">POLICE/</text>
<text class="b" transform="translate(397.61,1230.55) scale(0.7853,1)" font-size="10.9" letter-spacing="2.40" fill="#000" stroke="#000" stroke-width="1.3" stroke-linejoin="round">TAXI C2</text>
<path d="M733.8,1033 V1025.4 Q733.8,1022.4 736.8,1022.4 H860.3 Q863.3,1022.4 863.3,1025.4 V1033" stroke="#444" stroke-width="1.2" fill="#fff" />
<path d="M798.5,1032.4 H720.8 Q714.8,1032.4 714.8,1038.4 V1050.8 Q714.8,1055.3 710.3,1055.3 H707 Q701,1055.3 701,1061.3 V1143.3 Q701,1149.3 707,1149.3 H890.0 Q896.0,1149.3 896.0,1143.3 V1061.3 Q896.0,1055.3 890.0,1055.3 H886.7 Q882.2,1055.3 882.2,1050.8 V1038.4 Q882.2,1032.4 876.2,1032.4 Z" stroke="#2a2a2a" stroke-width="1.5" fill="#fff" />
<path d="M798.5,1036 H723.2 Q719.2,1036 719.2,1040 V1055.8 Q719.2,1058.8 716.2,1058.8 H709.4 Q705.4,1058.8 705.4,1062.8 V1140 Q705.4,1144 709.4,1144 H887.6 Q891.6,1144 891.6,1140 V1062.8 Q891.6,1058.8 887.6,1058.8 H880.8 Q877.8,1058.8 877.8,1055.8 V1040 Q877.8,1036 873.8,1036 Z" stroke="#3a3a3a" stroke-width="1.2" fill="#fff" />
<path d="M722,1036.3 H771 M825,1036.3 H875" stroke="#777" stroke-width="2.2" fill="none" />
<rect x="770" y="1022.5" width="57.7" height="7.1" stroke="#3a3a3a" stroke-width="1.2" fill="#fff" />
<rect x="785.2" y="1029.8" width="25.8" height="5.4" stroke="#777" stroke-width="0.9" fill="#d4d4d4" />
<path d="M785.2,1030.6 H811" stroke="#999" stroke-width="1.4" fill="none" />
<path d="M771.5,1032.4 V1074.2 H824.6 V1032.4 H819.9 V1070.2 H776.7 V1032.4 Z" stroke="#2a2a2a" stroke-width="1.2" fill="#c4c4c4" />
<path d="M791.2,1070.2 V1074.2 M804.8,1070.2 V1074.2" stroke="#333" stroke-width="1.1" fill="none" />
<path d="M776.7,1036.4 H819.9 M776.7,1041.6 H819.9" stroke="#666" stroke-width="1" fill="none" />
<path d="M785.1,1041.6 V1049.3 H812.5 V1041.6 M789.2,1041.6 V1046.2 H808.4 V1041.6" stroke="#555" stroke-width="1.1" fill="none" />
<rect x="774.2" y="1075.8" width="47.2" height="5.8" stroke="#777" stroke-width="0.9" fill="#d0d0d0" />
<path d="M774.2,1075.6 H821.4" stroke="#555" stroke-width="1.2" fill="none" />
<rect x="731.4" y="1040.2" width="37" height="3.5" rx="1.7" stroke="#333" stroke-width="1.1" fill="#c8c8c8" />
<rect x="828.4" y="1040.2" width="36.4" height="3.5" rx="1.7" stroke="#333" stroke-width="1.1" fill="#c8c8c8" />
<rect x="711.2" y="1063.4" width="14.4" height="3.6" rx="1.8" stroke="#555" stroke-width="0.8" fill="#777" />
<rect x="870.4" y="1063.4" width="15.8" height="3.6" rx="1.8" stroke="#555" stroke-width="0.8" fill="#777" />
<rect x="769.6" y="1136.4" width="25.6" height="3.2" rx="1.6" stroke="#444" stroke-width="1" fill="#999" />
<rect x="801.2" y="1136.4" width="25.8" height="3.2" rx="1.6" stroke="#444" stroke-width="1" fill="#999" />
<rect x="733.8" y="1058.4" width="14.4" height="7.2" stroke="#444" stroke-width="1.2" fill="#fff" />
<path d="M738.4,1051.8 V1061.4 Q741,1063.8 743.6,1061.4 V1051.8" stroke="#444" stroke-width="1.2" fill="#fff" />
<rect x="741.4" y="1052.2" width="1.8" height="9" stroke="none" stroke-width="0" fill="#999" />
<rect x="735" y="1047.8" width="12" height="4.2" stroke="#444" stroke-width="1.2" fill="#fff" />
<rect x="751.8" y="1058.4" width="14.4" height="7.2" stroke="#444" stroke-width="1.2" fill="#fff" />
<path d="M756.4,1051.8 V1061.4 Q759,1063.8 761.6,1061.4 V1051.8" stroke="#444" stroke-width="1.2" fill="#fff" />
<rect x="759.4" y="1052.2" width="1.8" height="9" stroke="none" stroke-width="0" fill="#999" />
<rect x="753" y="1047.8" width="12" height="4.2" stroke="#444" stroke-width="1.2" fill="#fff" />
<rect x="830.9" y="1058.4" width="14.4" height="7.2" stroke="#444" stroke-width="1.2" fill="#fff" />
<path d="M835.5,1051.8 V1061.4 Q838.1,1063.8 840.7,1061.4 V1051.8" stroke="#444" stroke-width="1.2" fill="#fff" />
<rect x="838.5" y="1052.2" width="1.8" height="9" stroke="none" stroke-width="0" fill="#999" />
<rect x="832.1" y="1047.8" width="12" height="4.2" stroke="#444" stroke-width="1.2" fill="#fff" />
<rect x="848.3" y="1058.4" width="14.4" height="7.2" stroke="#444" stroke-width="1.2" fill="#fff" />
<path d="M852.9,1051.8 V1061.4 Q855.5,1063.8 858.1,1061.4 V1051.8" stroke="#444" stroke-width="1.2" fill="#fff" />
<rect x="855.9" y="1052.2" width="1.8" height="9" stroke="none" stroke-width="0" fill="#999" />
<rect x="849.5" y="1047.8" width="12" height="4.2" stroke="#444" stroke-width="1.2" fill="#fff" />
<rect x="716.1" y="1082.6" width="14.4" height="7.2" stroke="#444" stroke-width="1.2" fill="#fff" />
<path d="M720.7,1076 V1085.6 Q723.3,1088 725.9,1085.6 V1076" stroke="#444" stroke-width="1.2" fill="#fff" />
<rect x="723.7" y="1076.4" width="1.8" height="9" stroke="none" stroke-width="0" fill="#999" />
<rect x="717.3" y="1072" width="12" height="4.2" stroke="#444" stroke-width="1.2" fill="#fff" />
<rect x="733.8" y="1082.6" width="14.4" height="7.2" stroke="#444" stroke-width="1.2" fill="#fff" />
<path d="M738.4,1076 V1085.6 Q741,1088 743.6,1085.6 V1076" stroke="#444" stroke-width="1.2" fill="#fff" />
<rect x="741.4" y="1076.4" width="1.8" height="9" stroke="none" stroke-width="0" fill="#999" />
<rect x="735" y="1072" width="12" height="4.2" stroke="#444" stroke-width="1.2" fill="#fff" />
<rect x="751.8" y="1082.6" width="14.4" height="7.2" stroke="#444" stroke-width="1.2" fill="#fff" />
<path d="M756.4,1076 V1085.6 Q759,1088 761.6,1085.6 V1076" stroke="#444" stroke-width="1.2" fill="#fff" />
<rect x="759.4" y="1076.4" width="1.8" height="9" stroke="none" stroke-width="0" fill="#999" />
<rect x="753" y="1072" width="12" height="4.2" stroke="#444" stroke-width="1.2" fill="#fff" />
<rect x="830.9" y="1082.6" width="14.4" height="7.2" stroke="#444" stroke-width="1.2" fill="#fff" />
<path d="M835.5,1076 V1085.6 Q838.1,1088 840.7,1085.6 V1076" stroke="#444" stroke-width="1.2" fill="#fff" />
<rect x="838.5" y="1076.4" width="1.8" height="9" stroke="none" stroke-width="0" fill="#999" />
<rect x="832.1" y="1072" width="12" height="4.2" stroke="#444" stroke-width="1.2" fill="#fff" />
<rect x="848.3" y="1082.6" width="14.4" height="7.2" stroke="#444" stroke-width="1.2" fill="#fff" />
<path d="M852.9,1076 V1085.6 Q855.5,1088 858.1,1085.6 V1076" stroke="#444" stroke-width="1.2" fill="#fff" />
<rect x="855.9" y="1076.4" width="1.8" height="9" stroke="none" stroke-width="0" fill="#999" />
<rect x="849.5" y="1072" width="12" height="4.2" stroke="#444" stroke-width="1.2" fill="#fff" />
<rect x="866.1" y="1082.6" width="14.4" height="7.2" stroke="#444" stroke-width="1.2" fill="#fff" />
<path d="M870.7,1076 V1085.6 Q873.3,1088 875.9,1085.6 V1076" stroke="#444" stroke-width="1.2" fill="#fff" />
<rect x="873.7" y="1076.4" width="1.8" height="9" stroke="none" stroke-width="0" fill="#999" />
<rect x="867.3" y="1072" width="12" height="4.2" stroke="#444" stroke-width="1.2" fill="#fff" />
<rect x="716.1" y="1107.2" width="14.4" height="7.2" stroke="#444" stroke-width="1.2" fill="#fff" />
<path d="M720.7,1100.6 V1110.2 Q723.3,1112.6 725.9,1110.2 V1100.6" stroke="#444" stroke-width="1.2" fill="#fff" />
<rect x="723.7" y="1101" width="1.8" height="9" stroke="none" stroke-width="0" fill="#999" />
<rect x="717.3" y="1096.6" width="12" height="4.2" stroke="#444" stroke-width="1.2" fill="#fff" />
<rect x="733.8" y="1107.2" width="14.4" height="7.2" stroke="#444" stroke-width="1.2" fill="#fff" />
<path d="M738.4,1100.6 V1110.2 Q741,1112.6 743.6,1110.2 V1100.6" stroke="#444" stroke-width="1.2" fill="#fff" />
<rect x="741.4" y="1101" width="1.8" height="9" stroke="none" stroke-width="0" fill="#999" />
<rect x="735" y="1096.6" width="12" height="4.2" stroke="#444" stroke-width="1.2" fill="#fff" />
<rect x="751.8" y="1107.2" width="14.4" height="7.2" stroke="#444" stroke-width="1.2" fill="#fff" />
<path d="M756.4,1100.6 V1110.2 Q759,1112.6 761.6,1110.2 V1100.6" stroke="#444" stroke-width="1.2" fill="#fff" />
<rect x="759.4" y="1101" width="1.8" height="9" stroke="none" stroke-width="0" fill="#999" />
<rect x="753" y="1096.6" width="12" height="4.2" stroke="#444" stroke-width="1.2" fill="#fff" />
<rect x="830.9" y="1107.2" width="14.4" height="7.2" stroke="#444" stroke-width="1.2" fill="#fff" />
<path d="M835.5,1100.6 V1110.2 Q838.1,1112.6 840.7,1110.2 V1100.6" stroke="#444" stroke-width="1.2" fill="#fff" />
<rect x="838.5" y="1101" width="1.8" height="9" stroke="none" stroke-width="0" fill="#999" />
<rect x="832.1" y="1096.6" width="12" height="4.2" stroke="#444" stroke-width="1.2" fill="#fff" />
<rect x="848.3" y="1107.2" width="14.4" height="7.2" stroke="#444" stroke-width="1.2" fill="#fff" />
<path d="M852.9,1100.6 V1110.2 Q855.5,1112.6 858.1,1110.2 V1100.6" stroke="#444" stroke-width="1.2" fill="#fff" />
<rect x="855.9" y="1101" width="1.8" height="9" stroke="none" stroke-width="0" fill="#999" />
<rect x="849.5" y="1096.6" width="12" height="4.2" stroke="#444" stroke-width="1.2" fill="#fff" />
<rect x="866.1" y="1107.2" width="14.4" height="7.2" stroke="#444" stroke-width="1.2" fill="#fff" />
<path d="M870.7,1100.6 V1110.2 Q873.3,1112.6 875.9,1110.2 V1100.6" stroke="#444" stroke-width="1.2" fill="#fff" />
<rect x="873.7" y="1101" width="1.8" height="9" stroke="none" stroke-width="0" fill="#999" />
<rect x="867.3" y="1096.6" width="12" height="4.2" stroke="#444" stroke-width="1.2" fill="#fff" />
<path d="M710.4,1144 V1137.2 H757 M886.6,1144 V1137.2 H840" stroke="#666" stroke-width="1" fill="none" />
<rect x="716.1" y="1131.8" width="14.4" height="7.2" stroke="#444" stroke-width="1.2" fill="#fff" />
<path d="M720.7,1125.2 V1134.8 Q723.3,1137.2 725.9,1134.8 V1125.2" stroke="#444" stroke-width="1.2" fill="#fff" />
<rect x="723.7" y="1125.6" width="1.8" height="9" stroke="none" stroke-width="0" fill="#999" />
<rect x="717.3" y="1121.2" width="12" height="4.2" stroke="#444" stroke-width="1.2" fill="#fff" />
<rect x="733.8" y="1131.8" width="14.4" height="7.2" stroke="#444" stroke-width="1.2" fill="#fff" />
<path d="M738.4,1125.2 V1134.8 Q741,1137.2 743.6,1134.8 V1125.2" stroke="#444" stroke-width="1.2" fill="#fff" />
<rect x="741.4" y="1125.6" width="1.8" height="9" stroke="none" stroke-width="0" fill="#999" />
<rect x="735" y="1121.2" width="12" height="4.2" stroke="#444" stroke-width="1.2" fill="#fff" />
<rect x="848.3" y="1131.8" width="14.4" height="7.2" stroke="#444" stroke-width="1.2" fill="#fff" />
<path d="M852.9,1125.2 V1134.8 Q855.5,1137.2 858.1,1134.8 V1125.2" stroke="#444" stroke-width="1.2" fill="#fff" />
<rect x="855.9" y="1125.6" width="1.8" height="9" stroke="none" stroke-width="0" fill="#999" />
<rect x="849.5" y="1121.2" width="12" height="4.2" stroke="#444" stroke-width="1.2" fill="#fff" />
<rect x="866.1" y="1131.8" width="14.4" height="7.2" stroke="#444" stroke-width="1.2" fill="#fff" />
<path d="M870.7,1125.2 V1134.8 Q873.3,1137.2 875.9,1134.8 V1125.2" stroke="#444" stroke-width="1.2" fill="#fff" />
<rect x="873.7" y="1125.6" width="1.8" height="9" stroke="none" stroke-width="0" fill="#999" />
<rect x="867.3" y="1121.2" width="12" height="4.2" stroke="#444" stroke-width="1.2" fill="#fff" />
<rect x="728.2" y="1136.4" width="7.4" height="3.8" stroke="#666" stroke-width="0.9" fill="#fff" />
<rect x="861.4" y="1136.4" width="7.4" height="3.8" stroke="#666" stroke-width="0.9" fill="#fff" />
<rect x="756.4" y="1121" width="11" height="10.4" stroke="#333" stroke-width="1.4" fill="#fff" />
<path d="M759.1999999999999,1131.4 V1144 M764.6,1131.4 V1144" stroke="#444" stroke-width="1.1" fill="none" />
<rect x="829.8" y="1121" width="11" height="10.4" stroke="#333" stroke-width="1.4" fill="#fff" />
<path d="M832.5999999999999,1131.4 V1144 M838.0,1131.4 V1144" stroke="#444" stroke-width="1.1" fill="none" />
<rect x="770.9" y="1085.3" width="24" height="4.4" stroke="#444" stroke-width="1.1" fill="#fff" />
<rect x="770.9" y="1115.8" width="24" height="4.4" stroke="#444" stroke-width="1.1" fill="#fff" />
<rect x="777.5" y="1089.7" width="10.4" height="10.2" stroke="#444" stroke-width="1.2" fill="#fff" />
<rect x="787.9" y="1090.4" width="2.6" height="20" stroke="none" stroke-width="0" fill="#bbb" />
<path d="M774.3,1089.7 V1112 M780.3,1100 V1112 M785.3,1100 V1112" stroke="#555" stroke-width="1" fill="none" />
<rect x="777.5" y="1120.2" width="12" height="9.6" stroke="#444" stroke-width="1.2" fill="#fff" />
<rect x="788.3" y="1121" width="2.6" height="8.4" stroke="none" stroke-width="0" fill="#bbb" />
<path d="M774.3,1120.2 V1129.8 H791.3" stroke="#555" stroke-width="1" fill="none" />
<rect x="801.6" y="1085.3" width="24" height="4.4" stroke="#444" stroke-width="1.1" fill="#fff" />
<rect x="801.6" y="1115.8" width="24" height="4.4" stroke="#444" stroke-width="1.1" fill="#fff" />
<rect x="808.2" y="1089.7" width="10.4" height="10.2" stroke="#444" stroke-width="1.2" fill="#fff" />
<rect x="818.6" y="1090.4" width="2.6" height="20" stroke="none" stroke-width="0" fill="#bbb" />
<path d="M805.0,1089.7 V1112 M811.0,1100 V1112 M816.0,1100 V1112" stroke="#555" stroke-width="1" fill="none" />
<rect x="808.2" y="1120.2" width="12" height="9.6" stroke="#444" stroke-width="1.2" fill="#fff" />
<rect x="819" y="1121" width="2.6" height="8.4" stroke="none" stroke-width="0" fill="#bbb" />
<path d="M805.0,1120.2 V1129.8 H822.0" stroke="#555" stroke-width="1" fill="none" />
<rect x="790.8" y="1101.4" width="15.8" height="5.2" stroke="#777" stroke-width="0.9" fill="#ddd" />
<rect x="775.4" y="1108" width="46.6" height="4.2" stroke="#777" stroke-width="0.9" fill="#ccc" />
<path d="M842.2,996.5 H820.2 L810,1009.4" stroke="#222" stroke-width="1.1" fill="none" />
<polygon points="799.6,1022.3 807.4,1005.6 814,1010" fill="#111"/>
<text class="r" transform="translate(848.20,1001.35) scale(0.6560,1)" font-size="12.3" letter-spacing="1.23" fill="#444" stroke="#444" stroke-width="0.5" stroke-linejoin="round">NATURAL</text>
<text class="r" transform="translate(667.18,1064.05) scale(0.6868,1)" font-size="12.3" letter-spacing="1.23" fill="#444" stroke="#444" stroke-width="0.5" stroke-linejoin="round">4</text>
<text class="r" transform="translate(661.98,1086.35) scale(0.6146,1)" font-size="12.3" letter-spacing="1.23" fill="#444" stroke="#444" stroke-width="0.5" stroke-linejoin="round">10</text>
<text class="r" transform="translate(661.98,1108.35) scale(0.6169,1)" font-size="12.3" letter-spacing="1.23" fill="#444" stroke="#444" stroke-width="0.5" stroke-linejoin="round">18</text>
<text class="r" transform="translate(661.57,1130.15) scale(0.6236,1)" font-size="12.3" letter-spacing="1.23" fill="#444" stroke="#444" stroke-width="0.5" stroke-linejoin="round">24</text>
<text class="r" transform="translate(923.87,1064.05) scale(0.4825,1)" font-size="12.3" letter-spacing="1.23" fill="#444" stroke="#444" stroke-width="0.5" stroke-linejoin="round">1</text>
<text class="r" transform="translate(923.25,1086.35) scale(0.6317,1)" font-size="12.3" letter-spacing="1.23" fill="#444" stroke="#444" stroke-width="0.5" stroke-linejoin="round">5</text>
<text class="r" transform="translate(923.78,1108.35) scale(0.6055,1)" font-size="12.3" letter-spacing="1.23" fill="#444" stroke="#444" stroke-width="0.5" stroke-linejoin="round">11</text>
<text class="r" transform="translate(923.76,1130.15) scale(0.6335,1)" font-size="12.3" letter-spacing="1.23" fill="#444" stroke="#444" stroke-width="0.5" stroke-linejoin="round">19</text>
<text class="b" transform="translate(758.16,1182.05) scale(0.8094,1)" font-size="10.9" letter-spacing="2.40" fill="#000" stroke="#000" stroke-width="1.3" stroke-linejoin="round">CONNECTOR-</text>
<text class="b" transform="translate(761.54,1198.05) scale(0.7889,1)" font-size="10.9" letter-spacing="2.40" fill="#000" stroke="#000" stroke-width="1.3" stroke-linejoin="round">INTERFACE-</text>
<text class="b" transform="translate(773.54,1214.25) scale(0.7937,1)" font-size="10.9" letter-spacing="2.40" fill="#000" stroke="#000" stroke-width="1.3" stroke-linejoin="round">POLICE/</text>
<text class="b" transform="translate(783.62,1230.55) scale(0.8007,1)" font-size="10.9" letter-spacing="2.40" fill="#000" stroke="#000" stroke-width="1.3" stroke-linejoin="round">TAXI</text>
<text class="b" transform="translate(916.95,1252.30) scale(0.9239,1)" font-size="7.6" letter-spacing="0.91" fill="#000" stroke="#000" stroke-width="0.8" stroke-linejoin="round">8178e173</text>
</g>
</svg>
</body></html>
